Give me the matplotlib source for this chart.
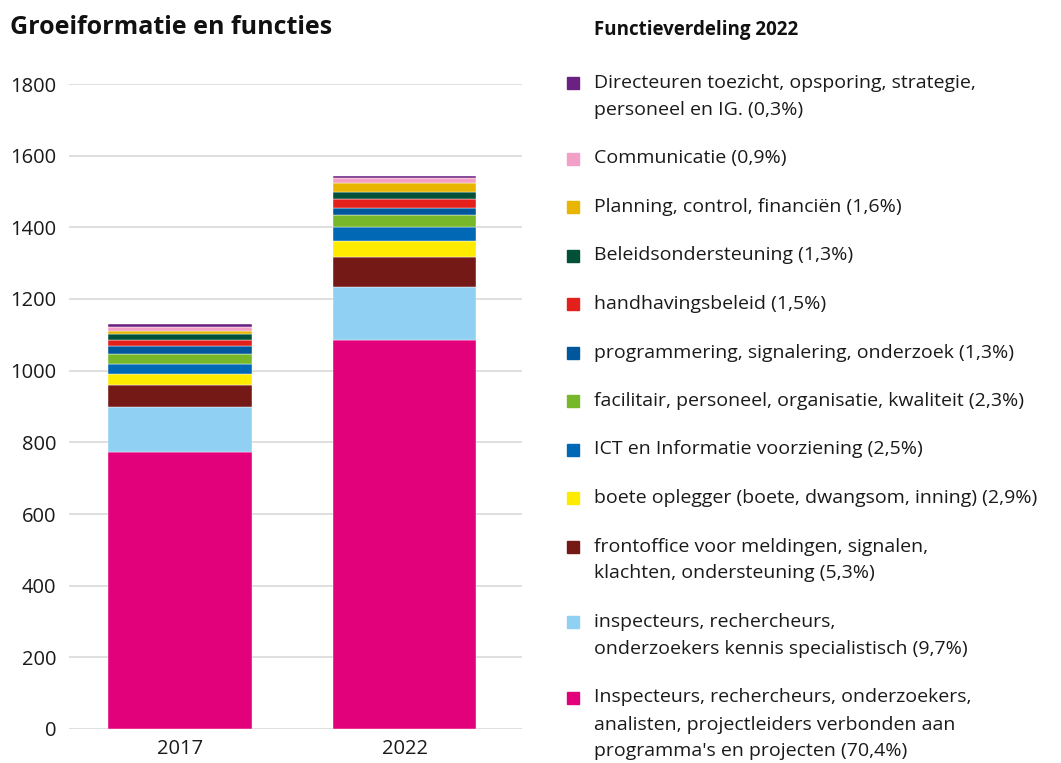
import matplotlib.pyplot as plt
from matplotlib.patches import Rectangle

plt.rcParams['font.family'] = ['Open Sans', 'DejaVu Sans']

years = ['2017', '2022']

# categories from bottom of stack to top
categories = [
    "Inspecteurs, rechercheurs, onderzoekers,\nanalisten, projectleiders verbonden aan\nprogramma's en projecten (70,4%)",
    "inspecteurs, rechercheurs,\nonderzoekers kennis specialistisch (9,7%)",
    "frontoffice voor meldingen, signalen,\nklachten, ondersteuning (5,3%)",
    "boete oplegger (boete, dwangsom, inning) (2,9%)",
    "ICT en Informatie voorziening (2,5%)",
    "facilitair, personeel, organisatie, kwaliteit (2,3%)",
    "programmering, signalering, onderzoek (1,3%)",
    "handhavingsbeleid (1,5%)",
    "Beleidsondersteuning (1,3%)",
    "Planning, control, financiën (1,6%)",
    "Communicatie (0,9%)",
    "Directeuren toezicht, opsporing, strategie,\npersoneel en IG. (0,3%)",
]
values_2017 = [773, 126, 60, 33, 27, 28, 21, 17, 16, 11, 11, 6]
values_2022 = [1085, 149, 82, 45, 39, 35, 20, 23, 20, 25, 14, 5]
colors = ['#e3007b', '#8fd0f3', '#751916', '#ffeb00', '#0068b4', '#76b82a',
          '#01579b', '#e3201b', '#005138', '#e8b500', '#f3a0c8', '#6b2182']

W, H = 1061, 763
fig = plt.figure(figsize=(W / 100, H / 100), dpi=100)
ax = fig.add_axes([69 / W, 1 - 729 / H, (522 - 69) / W, (729 - 84) / H])

bottoms = [0, 0]
for i, cat in enumerate(categories):
    vals = [values_2017[i], values_2022[i]]
    ax.bar([0, 1], vals, width=0.64, bottom=bottoms, color=colors[i],
           edgecolor='white', linewidth=0.3, zorder=3)
    bottoms = [bottoms[0] + vals[0], bottoms[1] + vals[1]]

ax.set_xlim(-0.494, 1.523)
ax.set_ylim(0, 1800)
ax.set_yticks(range(0, 1801, 200))
ax.set_xticks([0, 1])
ax.set_xticklabels(years)
ax.grid(axis='y', color='#dcdcdc', linewidth=1.3, zorder=0)
for s in ax.spines.values():
    s.set_visible(False)
ax.tick_params(axis='both', length=0, labelsize=14.5, colors='#1a1a1a')
ax.tick_params(axis='y', pad=9)
ax.tick_params(axis='x', pad=7)

fig.text(10 / W, 1 - 28 / H, 'Groeiformatie en functies', fontsize=18,
         fontweight='bold', va='center', ha='left', color='#111111')
fig.text(594 / W, 1 - 30 / H, 'Functieverdeling 2022', fontsize=13.5,
         fontweight='bold', va='center', ha='left', color='#111111')

# legend, top entry first
y = 83
line_h = 27
for i in reversed(range(len(categories))):
    lines = categories[i].split('\n')
    fig.patches.append(Rectangle((567 / W, 1 - (y + 6) / H), 12 / W, 12 / H,
                                 transform=fig.transFigure, color=colors[i]))
    for k, ln in enumerate(lines):
        fig.text(594 / W, 1 - (y + k * line_h) / H, ln, fontsize=14,
                 va='center', ha='left', color='#1a1a1a')
    y += (len(lines) - 1) * line_h + 48.5

fig.savefig('out.png', dpi=100)
